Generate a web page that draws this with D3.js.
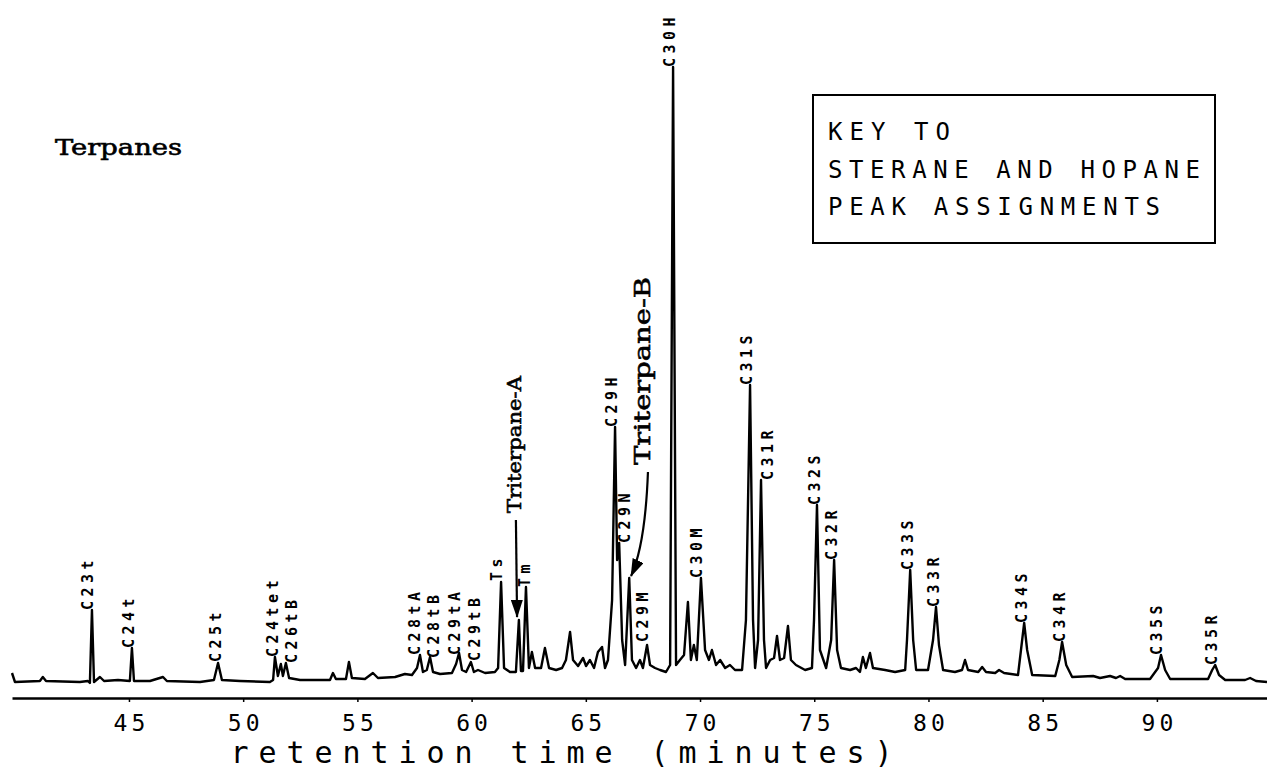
<!DOCTYPE html>
<html>
<head>
<meta charset="utf-8">
<script src="https://cdnjs.cloudflare.com/ajax/libs/d3/7.8.5/d3.min.js"></script>
<style>
  html, body { margin: 0; padding: 0; background: #fff; }
  svg { display: block; }
</style>
</head>
<body>
<svg id="chart" width="1267" height="772"></svg>
<script>
// ---- data (retention time in minutes, relative intensity) ----
const times = [39.88,40.01,41.10,41.23,41.37,42.85,43.20,43.29,43.38,43.47,43.73,43.91,44.52,45.04,45.13,45.22,45.92,46.49,46.66,48.11,48.72,48.90,49.07,49.86,51.17,51.31,51.39,51.52,51.65,51.74,51.87,52.01,52.49,53.80,53.93,54.06,54.50,54.63,54.76,55.33,55.68,55.90,56.65,57.08,57.39,57.61,57.74,57.87,58.04,58.18,58.31,58.62,59.14,59.32,59.45,59.58,59.76,59.97,60.10,60.28,60.59,61.02,61.16,61.29,61.42,61.68,61.94,62.07,62.16,62.25,62.38,62.51,62.64,62.78,63.04,63.21,63.39,63.70,63.96,64.13,64.31,64.44,64.66,64.88,65.01,65.18,65.36,65.53,65.71,65.84,65.97,66.15,66.28,66.37,66.46,66.59,66.72,66.90,67.02,67.20,67.37,67.50,67.68,67.81,68.03,68.25,68.51,68.69,68.82,68.95,69.12,69.30,69.47,69.60,69.73,69.86,70.04,70.22,70.39,70.52,70.70,70.88,71.10,71.31,71.53,71.84,72.01,72.19,72.32,72.41,72.54,72.67,72.80,72.89,73.07,73.24,73.37,73.50,73.68,73.85,73.98,74.20,74.60,74.90,74.99,75.12,75.25,75.52,75.74,75.87,76.00,76.17,76.57,76.83,77.00,77.13,77.26,77.44,77.57,78.10,78.54,78.98,79.06,79.20,79.33,79.46,79.98,80.20,80.33,80.46,80.64,81.16,81.47,81.60,81.73,82.18,82.35,82.52,82.92,83.09,83.31,83.92,84.05,84.19,84.32,84.54,85.55,85.73,85.85,86.03,86.29,87.21,87.51,87.95,88.21,88.39,88.61,89.70,90.05,90.18,90.36,90.58,92.24,92.42,92.55,92.72,92.99,93.86,94.08,94.34,94.82];
const intensities = [10,1,2,6,2,1,2,0,73,1,6,2,3,2,35,2,2,6,2,1,3,20,3,2,1,3,26,7,19,7,20,5,3,3,10,4,4,21,5,4,10,5,6,9,8,15,28,11,13,26,11,9,10,19,30,13,11,21,11,13,10,11,15,101,15,11,11,63,12,12,96,15,31,15,15,35,15,13,15,23,51,23,17,25,17,23,15,31,36,15,23,83,256,123,140,43,18,105,23,15,23,15,38,18,15,13,11,18,616,18,23,28,81,23,38,23,105,33,23,33,18,23,15,18,13,13,63,298,63,15,43,203,43,15,23,25,47,23,25,57,23,18,13,15,63,178,33,15,43,123,33,15,13,15,11,26,15,30,15,13,11,13,43,113,43,13,13,43,76,38,13,11,13,23,13,11,16,11,10,13,10,8,33,60,33,8,7,23,41,18,6,7,5,7,5,7,4,4,15,28,13,4,4,13,18,8,3,3,5,2,1];

// peak labels: name, retention time of label anchor, intensity at label foot
const peakNames   = ["C23t","C24t","C25t","C24tet","C26tB","C28tA","C28tB","C29tA","C29tB","Ts","Tm","C29H","C29N","C29M","C30H","C30M","C31S","C31R","C32S","C32R","C33S","C33R","C34S","C34R","C35S","C35R"];
const peakTimes   = [43.42,45.22,49.03,51.52,52.36,57.74,58.57,59.49,60.37,61.33,62.56,66.37,66.94,67.72,68.90,70.09,72.28,73.20,75.25,76.00,79.33,80.46,84.32,85.98,90.23,92.64];
const peakHeights = [73,35,21,26,20,28,25,28,22,102,96,256,140,41,616,105,298,203,178,123,113,76,60,41,28,18];

// compound annotations with arrows
const annoTexts    = ["Triterpane-A","Triterpane-B"];
const annoTimes    = [62.18,67.82];
const annoHeights  = [170,218];
const arrowStart   = [[61.94,163],[67.72,211]];
const arrowControl = [[61.96,115],[67.60,138]];
const arrowEnd     = [[61.99,66],[66.98,107]];

const tickValues = [45,50,55,60,65,70,75,80,85,90];
const xTitle = "retention time (minutes)";
const panelTitle = "Terpanes";
const keyLines = ["KEY TO","STERANE AND HOPANE","PEAK ASSIGNMENTS"];

// ---- drawing ----
const svg = d3.select("#chart");
const x = d3.scaleLinear().domain([39.88, 94.82]).range([12, 1267]);
const y = d3.scaleLinear().domain([0, 616]).range([683, 67]);

const plotFont = "'DejaVu Sans Mono', monospace";
const typeFont = "'DejaVu Serif', 'Liberation Serif', serif";

// axis
const axis = d3.axisBottom(x).tickValues(tickValues).tickSizeInner(4).tickSizeOuter(0).tickFormat(d3.format("d"));
const gAxis = svg.append("g").attr("transform", "translate(0,698)").call(axis);
gAxis.select(".domain").attr("stroke", "#000").attr("stroke-width", 2.6);
gAxis.selectAll(".tick line").attr("stroke", "#000").attr("stroke-width", 1.5);
gAxis.selectAll(".tick text")
  .attr("y", 33).attr("dy", 0)
  .attr("font-family", plotFont).attr("font-size", 23)
  .attr("letter-spacing", 4).attr("dx", 2)
  .attr("fill", "#000");

svg.append("text")
  .attr("x", x(49.45)).attr("y", 763)
  .attr("font-family", plotFont).attr("font-size", 30)
  .attr("textLength", 662).attr("lengthAdjust", "spacing")
  .attr("fill", "#000")
  .text(xTitle);

// trace
const pts = times.map((t, i) => [t, intensities[i]]);
const line = d3.line().x(d => x(d[0])).y(d => y(d[1]));
svg.append("path")
  .datum(pts)
  .attr("d", line)
  .attr("fill", "none")
  .attr("stroke", "#000")
  .attr("stroke-width", 2.4)
  .attr("stroke-linejoin", "round");

// peak labels
svg.append("g").selectAll("text")
  .data(peakNames)
  .join("text")
  .attr("transform", (d, i) => `translate(${x(peakTimes[i])},${y(peakHeights[i])}) rotate(-90)`)
  .attr("font-family", plotFont)
  .attr("font-size", 15)
  .attr("font-weight", "bold")
  .attr("letter-spacing", 4.5)
  .attr("fill", "#000")
  .text(d => d);

// annotation texts
const annoSizes = [19, 23];
const annoLens = [137, 188];
svg.append("g").selectAll("text")
  .data(annoTexts)
  .join("text")
  .attr("transform", (d, i) => `translate(${x(annoTimes[i])},${y(annoHeights[i])}) rotate(-90)`)
  .attr("font-family", typeFont)
  .attr("font-size", (d, i) => annoSizes[i])
  .attr("stroke", "#000").attr("stroke-width", 0.6)
  .attr("textLength", (d, i) => annoLens[i])
  .attr("lengthAdjust", "spacingAndGlyphs")
  .attr("fill", "#000")
  .text(d => d);

// arrows
svg.append("defs").append("marker")
  .attr("id", "arrowhead")
  .attr("viewBox", "0 0 18 12")
  .attr("refX", 17).attr("refY", 6)
  .attr("markerWidth", 18).attr("markerHeight", 12)
  .attr("markerUnits", "userSpaceOnUse")
  .attr("orient", "auto")
  .append("path").attr("d", "M0,0 L18,6 L0,12 Z").attr("fill", "#000");

const arrowPath = (i) => {
  const p = d3.path();
  p.moveTo(x(arrowStart[i][0]), y(arrowStart[i][1]));
  p.quadraticCurveTo(x(arrowControl[i][0]), y(arrowControl[i][1]), x(arrowEnd[i][0]), y(arrowEnd[i][1]));
  return p.toString();
};
svg.append("g").selectAll("path")
  .data(annoTexts)
  .join("path")
  .attr("d", (d, i) => arrowPath(i))
  .attr("fill", "none")
  .attr("stroke", "#000")
  .attr("stroke-width", 2.2)
  .attr("marker-end", "url(#arrowhead)");

// panel title
svg.append("text")
  .attr("x", 55).attr("y", 155)
  .attr("font-family", typeFont).attr("font-size", 22)
  .attr("stroke", "#000").attr("stroke-width", 0.6)
  .attr("textLength", 127).attr("lengthAdjust", "spacingAndGlyphs")
  .attr("fill", "#000")
  .text(panelTitle);

// key box
svg.append("rect")
  .attr("x", 813).attr("y", 95).attr("width", 402).attr("height", 148)
  .attr("fill", "none").attr("stroke", "#000").attr("stroke-width", 2);
const keyLens = [122, 372, 332];
svg.append("g").selectAll("text")
  .data(keyLines)
  .join("text")
  .attr("x", 828)
  .attr("y", (d, i) => 140 + i * 37.5)
  .attr("font-family", plotFont).attr("font-size", 24)
  .attr("textLength", (d, i) => keyLens[i]).attr("lengthAdjust", "spacing")
  .attr("fill", "#000")
  .text(d => d);
</script>
</body>
</html>
